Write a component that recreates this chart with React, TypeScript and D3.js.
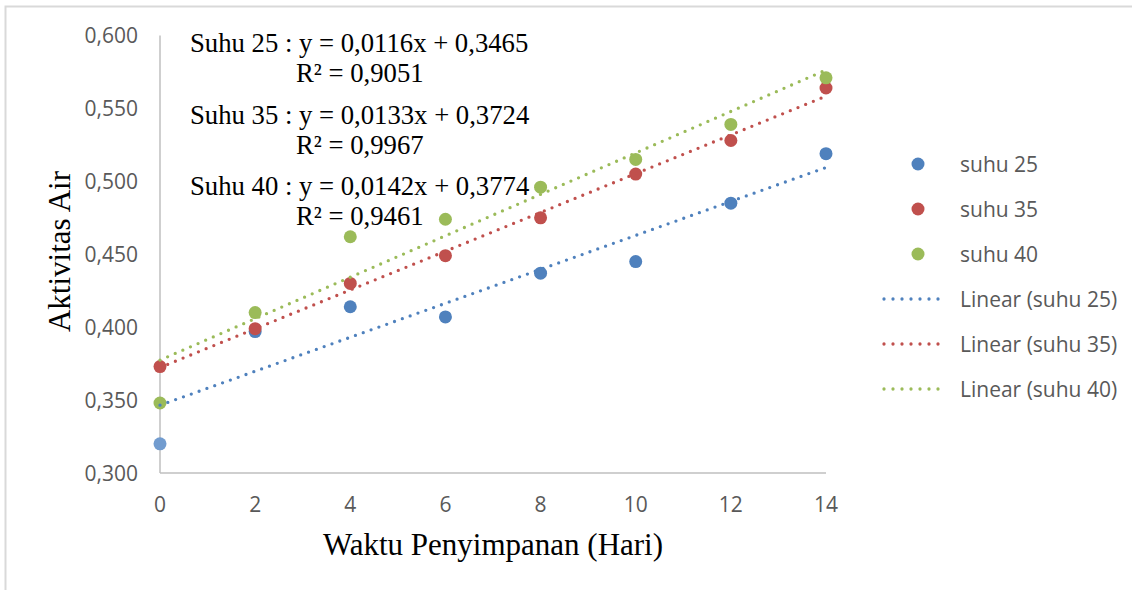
import React from "react";
import * as d3 from "d3";

const days = [0, 2, 4, 6, 8, 10, 12, 14];
const suhu25 = [0.320, 0.397, 0.414, 0.407, 0.437, 0.445, 0.485, 0.519];
const suhu35 = [0.373, 0.399, 0.430, 0.449, 0.475, 0.505, 0.528, 0.564];
const suhu40 = [0.348, 0.410, 0.462, 0.474, 0.496, 0.515, 0.539, 0.571];
const seriesNames = ["suhu 25", "suhu 35", "suhu 40"];
const xTicks = [0, 2, 4, 6, 8, 10, 12, 14];
const yTicks = [0.3, 0.35, 0.4, 0.45, 0.5, 0.55, 0.6];
const equations = [
  ["Suhu 25 : y = 0,0116x + 0,3465", "R² = 0,9051"],
  ["Suhu 35 : y = 0,0133x + 0,3724", "R² = 0,9967"],
  ["Suhu 40 : y = 0,0142x + 0,3774", "R² = 0,9461"],
];

const colors = ["#4F81BD", "#C0504D", "#9BBB59"];
const W = 1132;
const H = 590;

function fit(xs: number[], ys: number[]) {
  const mx = d3.mean(xs) as number;
  const my = d3.mean(ys) as number;
  let num = 0;
  let den = 0;
  xs.forEach((x, i) => {
    num += (x - mx) * (ys[i] - my);
    den += (x - mx) * (x - mx);
  });
  const b = num / den;
  return { b, a: my - b * mx };
}

export default function App() {
  const x = d3.scaleLinear().domain([0, 14]).range([160, 826]);
  const y = d3.scaleLinear().domain([0.3, 0.6]).range([473, 35.5]);
  const data = [suhu25, suhu35, suhu40];
  const fmt = (v: number) => d3.format(".3f")(v).replace(".", ",");
  const sans = "'Open Sans', sans-serif";
  const serif = "'Liberation Serif', 'Times New Roman', serif";

  return (
    <svg
      width={W}
      height={H}
      style={{ position: "absolute", left: 0, top: 0, background: "#fff" }}
    >
      <rect x={0} y={0} width={W} height={H} fill="#fff" />
      <rect
        x={5.5}
        y={6.5}
        width={W + 20}
        height={H + 20}
        fill="none"
        stroke="#d9d9d9"
        strokeWidth={2}
      />
      {/* axes */}
      <line x1={x(0)} x2={x(0)} y1={y(0.6)} y2={y(0.3)} stroke="#bfbfbf" strokeWidth={1.5} />
      <line x1={x(0)} x2={x(14)} y1={y(0.3)} y2={y(0.3)} stroke="#bfbfbf" strokeWidth={1.5} />
      {yTicks.map((t) => (
        <text
          key={"y" + t}
          x={138}
          y={y(t)}
          dy="0.36em"
          textAnchor="end"
          fontFamily={sans}
          fontSize={21}
          fill="#595959"
        >
          {fmt(t)}
        </text>
      ))}
      {xTicks.map((t) => (
        <text
          key={"x" + t}
          x={x(t)}
          y={511.5}
          textAnchor="middle"
          fontFamily={sans}
          fontSize={21}
          fill="#595959"
        >
          {t}
        </text>
      ))}
      {/* axis titles */}
      <text
        x={493}
        y={555}
        textAnchor="middle"
        fontFamily={serif}
        fontSize={31}
        fill="#000"
      >
        Waktu Penyimpanan (Hari)
      </text>
      <text
        transform={`translate(70,${251.5}) rotate(-90)`}
        textAnchor="middle"
        fontFamily={serif}
        fontSize={31}
        fill="#000"
      >
        Aktivitas Air
      </text>
      {/* markers */}
      {data.map((vals, si) =>
        vals.map((v, i) => (
          <circle
            key={`m${si}-${i}`}
            cx={x(days[i])}
            cy={y(v)}
            r={6.5}
            fill={si === 0 && i === 0 ? "#729ccf" : colors[si]}
          />
        ))
      )}
      {/* trendlines */}
      {data.map((vals, si) => {
        const { a, b } = fit(days, vals);
        return (
          <line
            key={"t" + si}
            x1={x(0)}
            y1={y(a)}
            x2={x(14)}
            y2={y(a + b * 14)}
            stroke={colors[si]}
            strokeWidth={3.3}
            strokeLinecap="round"
            strokeDasharray="0 8.3"
          />
        );
      })}
      {/* equations */}
      {equations.map((eq, i) => (
        <g key={"eq" + i} fontFamily={serif} fontSize={26.7} fill="#000">
          <text x={190} y={52 + i * 71.5}>
            {eq[0]}
          </text>
          <text x={296} y={82 + i * 71.5}>
            {eq[1]}
          </text>
        </g>
      ))}
      {/* legend */}
      {seriesNames.map((n, i) => (
        <g key={"lm" + i}>
          <circle cx={918} cy={164 + i * 45} r={6.5} fill={colors[i]} />
          <text x={960} y={164 + i * 45} dy="0.36em" fontFamily={sans} fontSize={21} fill="#595959">
            {n}
          </text>
        </g>
      ))}
      {seriesNames.map((n, i) => (
        <g key={"ll" + i}>
          <line
            x1={884}
            x2={947}
            y1={299 + i * 45}
            y2={299 + i * 45}
            stroke={colors[i]}
            strokeWidth={3.3}
            strokeLinecap="round"
            strokeDasharray="0 9"
          />
          <text x={960} y={299 + i * 45} dy="0.36em" fontFamily={sans} fontSize={21} fill="#595959">
            {`Linear (${n})`}
          </text>
        </g>
      ))}
    </svg>
  );
}
